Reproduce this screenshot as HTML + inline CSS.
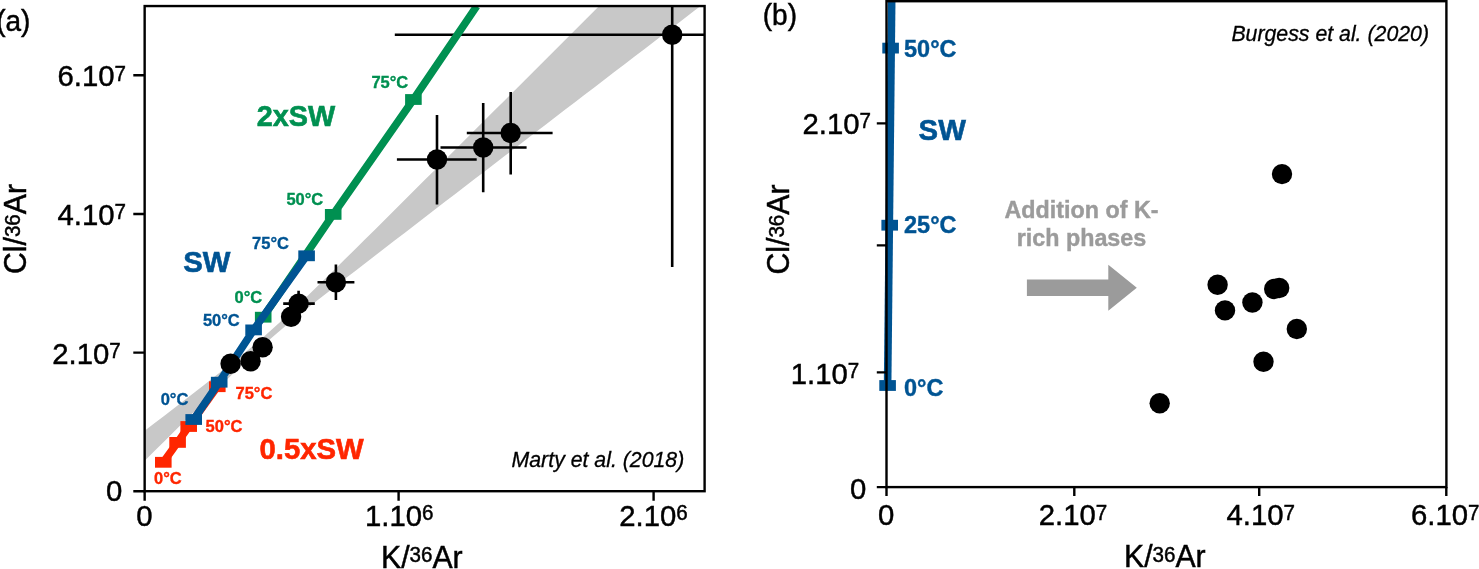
<!DOCTYPE html>
<html><head><meta charset="utf-8">
<style>
html,body{margin:0;padding:0;background:#fff;}
svg{display:block;}
text{font-family:"Liberation Sans",sans-serif;}
.t{font-size:29.3px;fill:#000;stroke:#000;stroke-width:0.45px;}
.s{font-size:20.6px;}
.ax{font-size:30.2px;}
.lb{font-weight:bold;font-size:16.5px;}
.big{font-weight:bold;font-size:29.3px;}
.it{font-style:italic;font-size:21.3px;fill:#000;stroke:#000;stroke-width:0.3px;}
</style></head><body>
<svg width="1479" height="569" viewBox="0 0 1479 569">
<rect width="1479" height="569" fill="#fff"/>
<defs><clipPath id="ca"><rect x="144.65" y="6.05" width="559.95" height="485.15"/></clipPath><clipPath id="cb"><rect x="886.5" y="1.2" width="559.90" height="485.90"/></clipPath></defs>
<g id="pa">
<g clip-path="url(#ca)">
<polygon points="144.7,430.8 154.7,423.1 164.7,415.4 174.7,407.7 184.7,400.0 194.7,392.2 204.7,384.4 214.7,376.6 224.7,368.8 234.7,360.8 244.7,352.7 254.7,344.5 264.6,335.9 274.6,327.1 284.6,317.9 294.6,308.4 304.6,298.8 314.6,289.1 324.6,279.3 334.6,269.5 344.6,259.6 354.6,249.7 364.6,239.8 374.6,229.9 384.6,219.9 394.6,210.0 404.6,200.0 414.6,190.1 424.6,180.1 434.6,170.2 444.6,160.2 454.6,150.2 464.6,140.3 474.6,130.3 484.6,120.3 494.6,110.3 504.6,100.4 514.6,90.4 524.6,80.4 534.6,70.4 544.6,60.4 554.6,50.5 564.6,40.5 574.6,30.5 584.6,20.5 594.6,10.5 604.6,0.5 614.6,-9.4 624.6,-19.4 634.6,-29.4 644.6,-39.4 654.6,-49.4 664.6,-59.4 674.6,-69.3 684.6,-79.3 694.6,-89.3 704.6,-99.2 704.6,2.9 694.6,10.6 684.6,18.2 674.6,25.9 664.6,33.5 654.6,41.2 644.6,48.9 634.6,56.5 624.6,64.2 614.6,71.8 604.6,79.5 594.6,87.2 584.6,94.8 574.6,102.5 564.6,110.1 554.6,117.8 544.6,125.5 534.6,133.1 524.6,140.8 514.6,148.5 504.6,156.1 494.6,163.8 484.6,171.5 474.6,179.1 464.6,186.8 454.6,194.5 444.6,202.1 434.6,209.8 424.6,217.5 414.6,225.2 404.6,232.9 394.6,240.6 384.6,248.3 374.6,256.0 364.6,263.7 354.6,271.4 344.6,279.1 334.6,286.9 324.6,294.7 314.6,302.6 304.6,310.5 294.6,318.5 284.6,326.7 274.6,335.2 264.6,344.0 254.7,353.1 244.7,362.5 234.7,372.0 224.7,381.7 214.7,391.5 204.7,401.3 194.7,411.2 184.7,421.1 174.7,431.0 164.7,440.9 154.7,450.8 144.7,460.8" fill="#c8c8c8"/>
<g stroke="#000" stroke-width="2.6" fill="none">
<path d="M394.8,34.8H710M672.2,0V267"/>
<path d="M396.9,159.5H476.7M437,115V204.4"/>
<path d="M440.5,147.5H526.6M483.2,103V192.3"/>
<path d="M466.8,133H552.6M510.7,92.1V174.4"/>
<path d="M317.5,282.2H354.4M335.9,264.4V300.1"/>
<path d="M283.2,303.6H314.8M298.6,290.8V316.4"/>
</g>
<polyline points="163.3,462.3 177.6,442.4 188.7,426.5 217.3,386.7" fill="none" stroke="#ff2600" stroke-width="7.6"/>
<rect x="155.00" y="456.90" width="16.6" height="10.8" fill="#ff2600"/>
<rect x="169.30" y="437.00" width="16.6" height="10.8" fill="#ff2600"/>
<rect x="180.40" y="421.10" width="16.6" height="10.8" fill="#ff2600"/>
<rect x="209.00" y="381.30" width="16.6" height="10.8" fill="#ff2600"/>

<polyline points="263.2,317.2 333.2,214.4 413.4,99.5 476.7,6.2" fill="none" stroke="#009051" stroke-width="7.6"/>
<rect x="254.90" y="311.80" width="16.6" height="10.8" fill="#009051"/>
<rect x="324.90" y="209.00" width="16.6" height="10.8" fill="#009051"/>
<rect x="405.10" y="94.10" width="16.6" height="10.8" fill="#009051"/>

<polyline points="193.7,419.5 219.2,382.2 253.6,329.9 306.6,255.8" fill="none" stroke="#005493" stroke-width="7.6"/>
<rect x="185.40" y="414.10" width="16.6" height="10.8" fill="#005493"/>
<rect x="210.90" y="376.80" width="16.6" height="10.8" fill="#005493"/>
<rect x="245.30" y="324.50" width="16.6" height="10.8" fill="#005493"/>
<rect x="298.30" y="250.40" width="16.6" height="10.8" fill="#005493"/>

<g fill="#000">
<circle cx="672.2" cy="34.8" r="10.2"/>
<circle cx="437" cy="159.5" r="10.2"/>
<circle cx="483.2" cy="147.5" r="10.2"/>
<circle cx="510.7" cy="133" r="10.2"/>
<circle cx="335.9" cy="282.2" r="10.2"/>
<circle cx="298.6" cy="303.6" r="10.2"/>
<circle cx="230.6" cy="363.7" r="10.2"/>
<circle cx="250.6" cy="361.3" r="10.2"/>
<circle cx="262.6" cy="347.2" r="10.2"/>
<circle cx="291.1" cy="316.8" r="10.2"/>
</g>
</g>
<rect x="144.65" y="6.05" width="559.95" height="485.15" fill="none" stroke="#000" stroke-width="2.4"/>
<g stroke="#000" stroke-width="2.4">
<path d="M133.3,75.3H144.65M133.3,214H144.65M133.3,352.6H144.65M133.3,491.2H144.65"/>
<path d="M144.65,491.2V500.7M398.6,491.2V500.7M653.6,491.2V500.7"/>
</g>
<text class="t" style="font-size:28px" transform="translate(-3.8,30.7) scale(1,1.03)">(a)</text>
<text class="t" transform="translate(126,86.3) scale(1,1.03)" text-anchor="end">6.10<tspan class="s" dy="-5.5">7</tspan></text>
<text class="t" transform="translate(126,224.6) scale(1,1.03)" text-anchor="end">4.10<tspan class="s" dy="-5.5">7</tspan></text>
<text class="t" transform="translate(120.8,363.8) scale(1,1.03)" text-anchor="end">2.10<tspan class="s" dy="-5.5">7</tspan></text>
<text class="t" transform="translate(122.3,501) scale(1,1.03)" text-anchor="end">0</text>
<text class="t" transform="translate(144.3,525.7) scale(1,1.03)" text-anchor="middle">0</text>
<text class="t" transform="translate(365,525.7) scale(1,1.03)">1.10<tspan class="s" dy="-5.5">6</tspan></text>
<text class="t" transform="translate(619.3,525.7) scale(1,1.03)">2.10<tspan class="s" dy="-5.5">6</tspan></text>
<text class="t ax" transform="translate(381,567.6) scale(1,1.03)">K/<tspan class="s" dy="-5.5">36</tspan><tspan dy="5.5">Ar</tspan></text>
<text class="t ax" transform="translate(25.5,229) rotate(-90) scale(1,1.03)" text-anchor="middle">Cl/<tspan class="s" dy="-5.5">36</tspan><tspan dy="5.5">Ar</tspan></text>
<text class="big" transform="translate(256.7,126) scale(1,1.03)" fill="#009051" stroke="#009051" stroke-width="0.6" style="font-size:28.8px">2xSW</text>
<text class="big" transform="translate(183.2,271.5) scale(1,1.03)" fill="#005493" stroke="#005493" stroke-width="0.6">SW</text>
<text class="big" transform="translate(259.5,459) scale(1,1.03)" fill="#ff2600" stroke="#ff2600" stroke-width="0.6">0.5xSW</text>
<g class="lb" fill="#009051" stroke="#009051" stroke-width="0.35">
<text transform="translate(371.4,88.3) scale(1,1.03)">75°C</text>
<text transform="translate(286.4,204.8) scale(1,1.03)">50°C</text>
<text transform="translate(234.5,302.7) scale(1,1.03)">0°C</text>
</g>
<g class="lb" fill="#005493" stroke="#005493" stroke-width="0.35">
<text transform="translate(252.1,248.8) scale(1,1.03)">75°C</text>
<text transform="translate(202.9,326.3) scale(1,1.03)">50°C</text>
<text transform="translate(160.7,405.2) scale(1,1.03)">0°C</text>
</g>
<g class="lb" fill="#ff2600" stroke="#ff2600" stroke-width="0.35">
<text transform="translate(235.5,398.7) scale(1,1.03)">75°C</text>
<text transform="translate(205.6,432.4) scale(1,1.03)">50°C</text>
<text transform="translate(154.1,484) scale(1,1.03)">0°C</text>
</g>
<text class="it" transform="translate(684.3,467.4) scale(1,1.03)" text-anchor="end">Marty et al. (2018)</text>
</g>
<g id="pb">
<g>
<line x1="887.6" y1="385.5" x2="891.7" y2="0" stroke="#005493" stroke-width="7.6"/>
</g>
<rect x="882.30" y="42.70" width="16.6" height="10.8" fill="#005493"/>
<rect x="881.40" y="219.80" width="16.6" height="10.8" fill="#005493"/>
<rect x="879.30" y="380.10" width="16.6" height="10.8" fill="#005493"/>
<rect x="886.5" y="1.2" width="559.90" height="485.90" fill="none" stroke="#000" stroke-width="2.4"/>
<g stroke="#000" stroke-width="2.4">
<path d="M876.8,123.4H886.5M876.8,245.4H886.5M876.8,372.4H886.5M876.8,487.1H886.5"/>
<path d="M886.5,487.1V496M1074.3,487.1V496M1259.2,487.1V496M1446.3,487.1V496"/>
</g>
<g fill="#000">
<circle cx="1282" cy="174.1" r="10.2"/>
<circle cx="1217.6" cy="284.7" r="10.2"/>
<circle cx="1225" cy="310.4" r="10.2"/>
<circle cx="1252.4" cy="302.5" r="10.2"/>
<circle cx="1274.2" cy="289.0" r="10.2"/>
<circle cx="1279.2" cy="288.0" r="10.2"/>
<circle cx="1296.8" cy="329.0" r="10.2"/>
<circle cx="1263.5" cy="361.7" r="10.2"/>
<circle cx="1159.7" cy="403.3" r="10.2"/>
</g>
<polygon points="1026.9,279.6 1108.3,279.6 1108.3,264.8 1136.8,287.7 1108.3,310.7 1108.3,295.9 1026.9,295.9" fill="#9b9b9b"/>
<g font-weight="bold" font-size="23.3" fill="#9b9b9b" stroke="#9b9b9b" stroke-width="0.4" text-anchor="middle">
<text transform="translate(1081.5,218.2) scale(1,1.03)">Addition of K-</text>
<text transform="translate(1081.5,245.9) scale(1,1.03)">rich phases</text>
</g>
<text class="t" style="font-size:28px" transform="translate(762.8,25.4) scale(1,1.03)">(b)</text>
<text class="t" transform="translate(871,133.9) scale(1,1.03)" text-anchor="end">2.10<tspan class="s" dy="-5.5">7</tspan></text>
<text class="t" transform="translate(859.2,383.6) scale(1,1.03)" text-anchor="end">1.10<tspan class="s" dy="-5.5">7</tspan></text>
<text class="t" transform="translate(866.4,498.9) scale(1,1.03)" text-anchor="end">0</text>
<text class="t" transform="translate(886.2,525.2) scale(1,1.03)" text-anchor="middle">0</text>
<text class="t" transform="translate(1038.8,525.2) scale(1,1.03)">2.10<tspan class="s" dy="-5.5">7</tspan></text>
<text class="t" transform="translate(1226.5,525.2) scale(1,1.03)">4.10<tspan class="s" dy="-5.5">7</tspan></text>
<text class="t" transform="translate(1411,525.2) scale(1,1.03)">6.10<tspan class="s" dy="-5.5">7</tspan></text>
<text class="t ax" transform="translate(1124,567.2) scale(1,1.03)">K/<tspan class="s" dy="-5.5">36</tspan><tspan dy="5.5">Ar</tspan></text>
<text class="t ax" transform="translate(789.4,229.5) rotate(-90) scale(1,1.03)" text-anchor="middle">Cl/<tspan class="s" dy="-5.5">36</tspan><tspan dy="5.5">Ar</tspan></text>
<text class="big" transform="translate(918.6,140.4) scale(1,1.03)" fill="#005493" stroke="#005493" stroke-width="0.6" style="font-size:29.3px">SW</text>
<g fill="#005493" stroke="#005493" stroke-width="0.4" font-weight="bold" font-size="23.5">
<text transform="translate(904,57.2) scale(1,1.03)">50°C</text>
<text transform="translate(904,233) scale(1,1.03)">25°C</text>
<text transform="translate(904,396) scale(1,1.03)">0°C</text>
</g>
<text class="it" transform="translate(1429,40.6) scale(1,1.03)" text-anchor="end">Burgess et al. (2020)</text>
</g>
</svg>
</body></html>
